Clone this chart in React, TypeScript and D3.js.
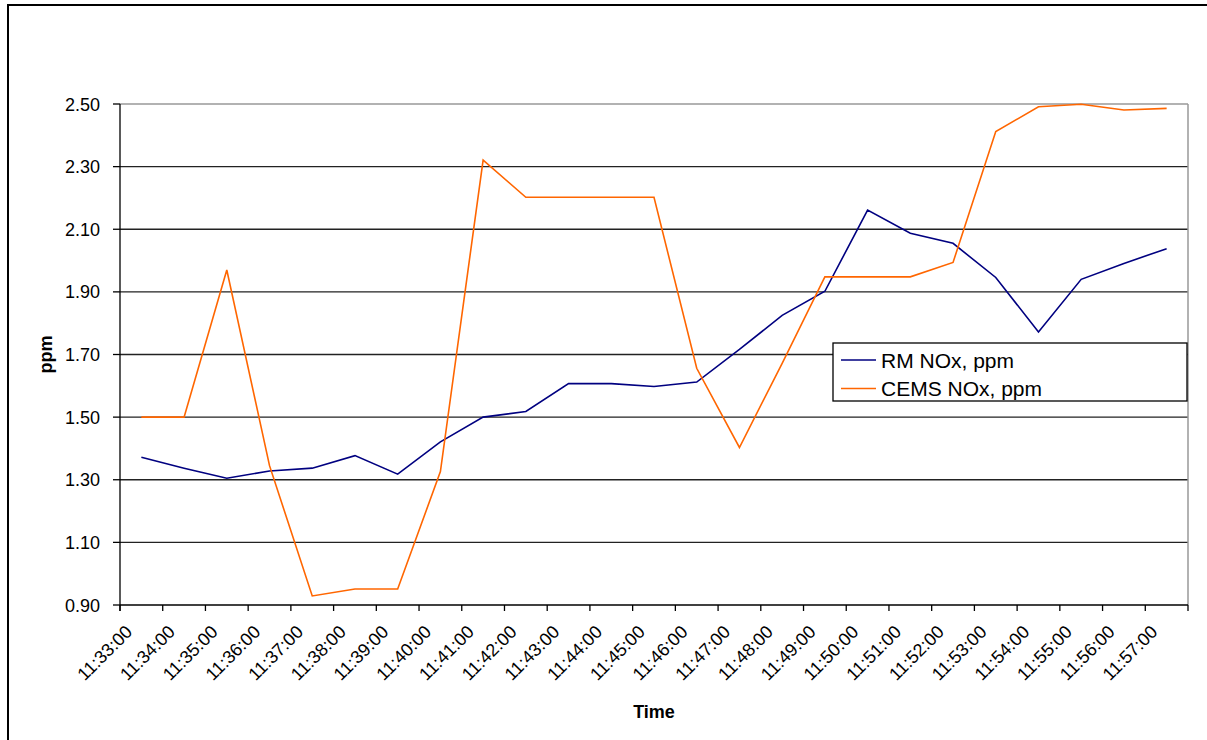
import React from "react";
import * as d3 from "d3";

const categories = [
  "11:33:00", "11:34:00", "11:35:00", "11:36:00", "11:37:00", "11:38:00", "11:39:00",
  "11:40:00", "11:41:00", "11:42:00", "11:43:00", "11:44:00", "11:45:00", "11:46:00",
  "11:47:00", "11:48:00", "11:49:00", "11:50:00", "11:51:00", "11:52:00", "11:53:00",
  "11:54:00", "11:55:00", "11:56:00", "11:57:00",
];
const rmNOx = [
  1.372, 1.337, 1.305, 1.328, 1.337, 1.377, 1.318, 1.421, 1.5, 1.518, 1.607, 1.607, 1.598,
  1.612, 1.716, 1.825, 1.902, 2.161, 2.087, 2.055, 1.946, 1.772, 1.94, 1.991, 2.038,
];
const cemsNOx = [
  1.5, 1.5, 1.97, 1.345, 0.929, 0.951, 0.951, 1.326, 2.321, 2.202, 2.202, 2.202, 2.202,
  1.656, 1.403, 1.672, 1.948, 1.948, 1.948, 1.994, 2.412, 2.491, 2.499, 2.481, 2.486,
];
const yTicks = [0.9, 1.1, 1.3, 1.5, 1.7, 1.9, 2.1, 2.3, 2.5];
const seriesNames = ["RM NOx, ppm", "CEMS NOx, ppm"];
const seriesColors = ["#000080", "#FF6600"];

const W = 1207;
const H = 740;
const L = 120, R = 1188, T = 104, B = 605;
const FONT = "'Liberation Sans', Arial, sans-serif";

export default function App() {
  const x = d3.scaleBand<string>().domain(categories).range([L, R]).padding(0);
  const y = d3.scaleLinear().domain([0.9, 2.5]).range([B, T]);
  const cx = (c: string) => (x(c) as number) + x.bandwidth() / 2;
  const line = d3
    .line<number>()
    .x((_, i) => cx(categories[i]))
    .y((d) => y(d));
  const series = [rmNOx, cemsNOx];
  const tickXs = categories.map((c) => x(c) as number).concat([R]);

  return (
    <div style={{ position: "absolute", left: 0, top: 0 }}>
      <svg width={W} height={H} style={{ display: "block" }} fontFamily={FONT}>
        <rect x={0} y={0} width={W} height={H} fill="#fff" />
        <rect x={8} y={5} width={1210} height={760} fill="none" stroke="#000" strokeWidth={2} />
        {/* gridlines */}
        {yTicks.map((t) =>
          t === 2.5 || t === 0.9 ? null : (
            <line key={"g" + t} x1={L} x2={R} y1={y(t)} y2={y(t)} stroke="#222" strokeWidth={1.3} />
          )
        )}
        {/* plot border top/right gray */}
        <line x1={L} x2={R} y1={y(2.5)} y2={y(2.5)} stroke="#999" strokeWidth={1.5} />
        <line x1={R} x2={R} y1={T} y2={B} stroke="#999" strokeWidth={1.5} />
        {/* axes */}
        <line x1={L} x2={L} y1={T} y2={B + 6} stroke="#000" strokeWidth={1.3} />
        <line x1={L} x2={R} y1={B} y2={B} stroke="#000" strokeWidth={1.3} />
        {yTicks.map((t) => (
          <g key={"yt" + t}>
            <line x1={L - 7} x2={L} y1={y(t)} y2={y(t)} stroke="#000" strokeWidth={1.3} />
            <text x={100} y={y(t) + 6.5} textAnchor="end" fontSize={18} fill="#000">
              {t.toFixed(2)}
            </text>
          </g>
        ))}
        {tickXs.map((tx, i) => (
          <line key={"xt" + i} x1={tx} x2={tx} y1={B} y2={B + 6} stroke="#000" strokeWidth={1.3} />
        ))}
        {categories.map((c) => (
          <text
            key={"xl" + c}
            transform={`translate(${cx(c) - 8},${B + 28}) rotate(-45)`}
            textAnchor="end"
            fontSize={18}
            fill="#000"
          >
            {c}
          </text>
        ))}
        {/* series */}
        {series.map((s, i) => (
          <path key={"s" + i} d={line(s) || ""} fill="none" stroke={seriesColors[i]} strokeWidth={1.6} />
        ))}
        {/* axis titles */}
        <text
          transform={`translate(52,${(T + B) / 2}) rotate(-90)`}
          textAnchor="middle"
          fontSize={18}
          fontWeight="bold"
          fill="#000"
        >
          ppm
        </text>
        <text x={(L + R) / 2} y={718} textAnchor="middle" fontSize={18} fontWeight="bold" fill="#000">
          Time
        </text>
        {/* legend */}
        <rect x={833} y={343} width={354} height={58} fill="#fff" stroke="#000" strokeWidth={1.3} />
        {seriesNames.map((n, i) => (
          <g key={"lg" + i}>
            <line
              x1={841}
              x2={876}
              y1={360 + i * 28.5}
              y2={360 + i * 28.5}
              stroke={seriesColors[i]}
              strokeWidth={1.6}
            />
            <text x={881} y={367.5 + i * 28.5} fontSize={21} fill="#000">
              {n}
            </text>
          </g>
        ))}
      </svg>
    </div>
  );
}
